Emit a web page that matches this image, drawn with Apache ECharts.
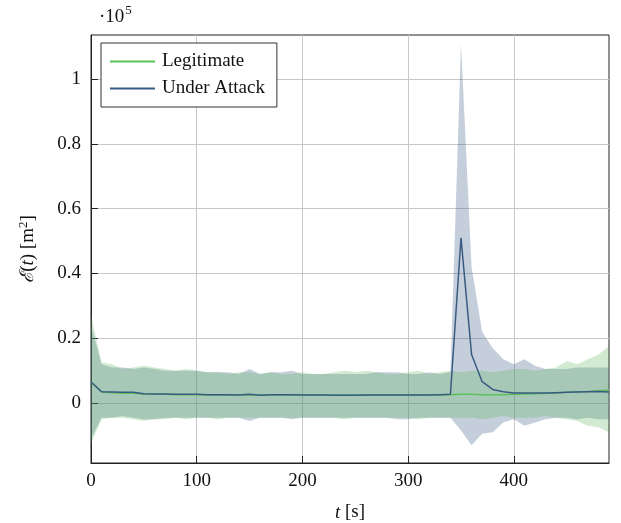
<!DOCTYPE html>
<html>
<head>
<meta charset="utf-8">
<script src="https://cdn.jsdelivr.net/npm/echarts@6/dist/echarts.min.js"></script>
<style>html,body{margin:0;padding:0;background:#fff}#c{width:621px;height:523px}</style>
</head>
<body>
<div id="c"></div>
<script>
// time stamps (s)
const times = [0,10,20,30,40,50,60,70,80,90,100,110,120,130,140,150,160,170,180,190,200,210,220,230,240,250,260,270,280,290,300,310,320,330,340,350,360,370,380,390,400,410,420,430,440,450,460,470,480,490];
// values in units of 1e5 m^2
const legitMean = [0.065,0.035,0.032,0.030,0.030,0.028,0.027,0.027,0.026,0.026,
 0.026,0.025,0.025,0.025,0.025,0.025,0.025,0.025,0.025,0.025,
 0.025,0.025,0.025,0.025,0.025,0.025,0.025,0.025,0.025,0.025,
 0.025,0.025,0.025,0.025,0.026,0.027,0.027,0.026,0.026,0.026,
 0.027,0.028,0.029,0.030,0.031,0.033,0.035,0.036,0.038,0.040];
const legitUpper = [0.27,0.125,0.12,0.105,0.11,0.115,0.11,0.105,0.10,0.105,
 0.10,0.095,0.095,0.09,0.095,0.095,0.09,0.095,0.09,0.09,
 0.095,0.09,0.09,0.095,0.10,0.095,0.10,0.095,0.09,0.09,
 0.095,0.10,0.09,0.095,0.10,0.095,0.10,0.10,0.095,0.10,
 0.105,0.105,0.10,0.105,0.11,0.13,0.12,0.135,0.15,0.175];
const legitLower = [-0.125,-0.05,-0.045,-0.045,-0.05,-0.055,-0.05,-0.05,-0.045,-0.05,
 -0.045,-0.045,-0.05,-0.045,-0.045,-0.045,-0.045,-0.045,-0.045,-0.045,
 -0.045,-0.045,-0.045,-0.045,-0.05,-0.045,-0.045,-0.045,-0.045,-0.045,
 -0.045,-0.05,-0.045,-0.045,-0.045,-0.045,-0.045,-0.05,-0.045,-0.04,
 -0.045,-0.045,-0.045,-0.04,-0.045,-0.05,-0.055,-0.07,-0.075,-0.09];
const attackMean = [0.065,0.035,0.034,0.033,0.033,0.029,0.028,0.028,0.027,0.027,
 0.027,0.026,0.026,0.026,0.025,0.027,0.024,0.026,0.026,0.026,
 0.025,0.025,0.025,0.024,0.024,0.024,0.025,0.025,0.025,0.025,
 0.025,0.025,0.025,0.026,0.027,0.51,0.15,0.066,0.042,0.035,
 0.031,0.031,0.031,0.031,0.032,0.033,0.034,0.035,0.036,0.034];
const attackUpper = [0.24,0.12,0.11,0.11,0.105,0.11,0.105,0.10,0.10,0.10,
 0.10,0.095,0.095,0.095,0.09,0.105,0.09,0.095,0.095,0.10,
 0.09,0.09,0.09,0.09,0.09,0.09,0.09,0.095,0.095,0.095,
 0.09,0.09,0.095,0.09,0.095,1.11,0.42,0.22,0.17,0.135,
 0.12,0.135,0.115,0.105,0.105,0.105,0.11,0.11,0.11,0.11];
const attackLower = [-0.11,-0.045,-0.045,-0.04,-0.045,-0.05,-0.05,-0.045,-0.045,-0.045,
 -0.045,-0.045,-0.045,-0.045,-0.045,-0.055,-0.045,-0.045,-0.045,-0.05,
 -0.045,-0.045,-0.045,-0.045,-0.045,-0.045,-0.045,-0.045,-0.045,-0.05,
 -0.05,-0.045,-0.045,-0.045,-0.045,-0.085,-0.13,-0.095,-0.09,-0.06,
 -0.05,-0.07,-0.06,-0.05,-0.045,-0.045,-0.05,-0.045,-0.05,-0.05];
const yTicks = [0,0.2,0.4,0.6,0.8,1];
const xTicks = [0,100,200,300,400];
const names = ['Legitimate','Under Attack'];

const FONT = 'Liberation Serif';
const pair = (arr) => times.map((t,i)=>[t,arr[i]]);

function bandSeries(upper, lower, fill, opacity, z){
  return {
    type:'custom', silent:true, z:z, clip:true,
    data:[[times[0], lower[0], upper[0]]],
    encode:{x:0, y:[1,2]},
    renderItem:(params, api)=>{
      const pts = [];
      for (let i=0;i<times.length;i++) pts.push(api.coord([times[i], upper[i]]));
      for (let i=times.length-1;i>=0;i--) pts.push(api.coord([times[i], lower[i]]));
      return {type:'polygon', shape:{points:pts}, style:{fill:fill, opacity:opacity}};
    }
  };
}

const chart = echarts.init(document.getElementById('c'), null, {renderer:'canvas'});
chart.setOption({
  animation:false,
  backgroundColor:'#fff',
  grid:{left:91,right:12,top:35,bottom:60,outerBoundsMode:'none',containLabel:false,
        show:true,borderColor:'#222',borderWidth:1,backgroundColor:'transparent'},
  graphic:[{type:'text',left:99,top:4,style:{
    text:'{a|·10}{s|5}',
    rich:{a:{fontFamily:FONT,fontSize:19,fill:'#111',verticalAlign:'bottom'},
          s:{fontFamily:FONT,fontSize:13,fill:'#111',verticalAlign:'top',padding:[0,0,10,1]}}
  }}],
  legend:{
    data:names, left:101, top:43, orient:'vertical',
    backgroundColor:'#fff', borderColor:'#333', borderWidth:1,
    padding:[9,12,9,9], itemGap:8, itemWidth:45, itemHeight:2, icon:'rect',
    textStyle:{fontFamily:FONT,fontSize:19,color:'#111',padding:[0,0,0,2]}
  },
  xAxis:{
    type:'value', min:0, max:490,
    name:'{i|t} [s]', nameLocation:'middle', nameGap:40,
    nameTextStyle:{fontFamily:FONT,fontSize:19,color:'#111',
      rich:{i:{fontFamily:FONT,fontSize:19,fontStyle:'italic',color:'#111'}}},
    axisLine:{show:true,onZero:false,lineStyle:{color:'#222'}},
    axisTick:{show:true,inside:true,length:7,customValues:xTicks,lineStyle:{color:'#222'}},
    axisLabel:{fontFamily:FONT,fontSize:19,color:'#111',margin:9,customValues:xTicks},
    splitLine:{show:true,lineStyle:{color:'#c8c8c8',width:1}}
  },
  yAxis:{
    type:'value', min:-0.185, max:1.136,
    name:'{e|ℰ}({i|t}) [m{s|2}]', nameLocation:'middle', nameGap:52, nameRotate:90,
    nameTextStyle:{fontFamily:FONT,fontSize:19,color:'#111',
      rich:{e:{fontFamily:FONT,fontSize:19,fontStyle:'italic',color:'#111'},
            i:{fontFamily:FONT,fontSize:19,fontStyle:'italic',color:'#111'},
            s:{fontFamily:FONT,fontSize:13,color:'#111',verticalAlign:'top',padding:[0,0,9,0]}}},
    axisLine:{show:true,onZero:false,lineStyle:{color:'#222'}},
    axisTick:{show:true,inside:true,length:7,customValues:yTicks,lineStyle:{color:'#222'}},
    axisLabel:{fontFamily:FONT,fontSize:19,color:'#111',margin:10,customValues:yTicks,
      formatter:(v)=>String(+v.toFixed(1))},
    splitLine:{show:true,lineStyle:{color:'#c8c8c8',width:1}}
  },
  series:[
    bandSeries(attackUpper, attackLower, 'rgb(62,95,140)', 0.3, 1),
    bandSeries(legitUpper, legitLower, 'rgb(90,180,90)', 0.28, 2),
    {type:'line',name:names[0],data:pair(legitMean),showSymbol:false,color:'#5cc15c',
     lineStyle:{color:'#5cc15c',width:1.5},z:5},
    {type:'line',name:names[1],data:pair(attackMean),showSymbol:false,color:'#3a5a82',
     lineStyle:{color:'#3a5a82',width:1.5},z:6}
  ]
});
</script>
</body>
</html>
